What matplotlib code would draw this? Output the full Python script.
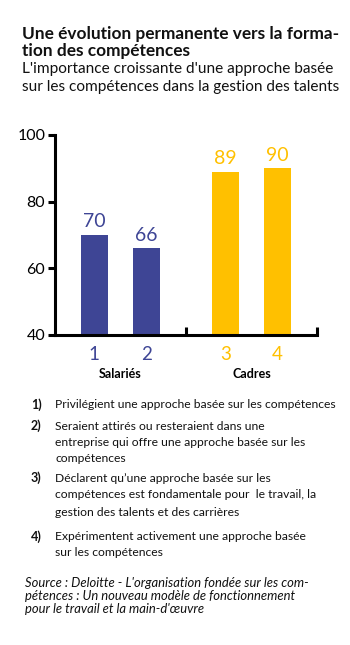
import matplotlib
matplotlib.use("Agg")
import matplotlib.pyplot as plt

# --- data ---
groups = ["Salariés", "Cadres"]
bar_labels = ["1", "2", "3", "4"]
values = [70, 66, 89, 90]
group_of_bar = [0, 0, 1, 1]
group_colors = ["#3E4595", "#FFC000"]

title_lines = ["Une évolution permanente vers la forma-", "tion des compétences"]
subtitle_lines = ["L'importance croissante d'une approche basée",
                  "sur les compétences dans la gestion des talents"]
notes = [
    ("1)", ["Privilégient une approche basée sur les compétences"]),
    ("2)", ["Seraient attirés ou resteraient dans une",
            "entreprise qui offre une approche basée sur les",
            "compétences"]),
    ("3)", ["Déclarent qu’une approche basée sur les",
            "compétences est fondamentale pour  le travail, la",
            "gestion des talents et des carrières"]),
    ("4)", ["Expérimentent activement une approche basée",
            "sur les compétences"]),
]
source_lines = ["Source : Deloitte - L'organisation fondée sur les com-",
                "pétences : Un nouveau modèle de fonctionnement",
                "pour le travail et la main-d'œuvre"]

FONT = "Lato"
INK = "#111111"
W, H = 350, 645
fig = plt.figure(figsize=(W / 100, H / 100), dpi=100)
fig.patch.set_facecolor("white")


def fy(y):
    return 1 - y / H


def fx(x):
    return x / W


# --- axes ---
ax = fig.add_axes([fx(55), fy(335), 262 / W, 200 / H])
offset, width = 0.2, 0.21
xs = []
for i, v in enumerate(values):
    g = group_of_bar[i]
    pos = g + 0.5 + (-offset if i % 2 == 0 else offset)
    xs.append(pos)
    c = group_colors[g]
    ax.bar(pos, v, width=width, color=c, zorder=2)
    ax.text(pos, v + 1.4, str(v), ha="center", va="bottom", color=c,
            fontsize=14, family=FONT)

ax.set_xlim(0, 2)
ax.set_ylim(40, 100)
ax.set_yticks([40, 60, 80, 100])
ax.set_yticklabels(["40", "60", "80", "100"], family=FONT, fontsize=11.5)
for s in ["top", "right"]:
    ax.spines[s].set_visible(False)
for s in ["left", "bottom"]:
    ax.spines[s].set_linewidth(2.2)
    ax.spines[s].set_capstyle("projecting")
ax.tick_params(axis="y", direction="out", length=5, width=2.2, pad=2)
ax.set_xticks([1, 2])
ax.set_xticklabels([])
ax.tick_params(axis="x", direction="in", length=6, width=2.2)

# category numbers and group names under the axis
for i, pos in enumerate(xs):
    ax.text(pos, -0.055, bar_labels[i], transform=ax.get_xaxis_transform(),
            ha="center", va="top", color=group_colors[group_of_bar[i]],
            fontsize=13.5, family=FONT)
for g, name in enumerate(groups):
    ax.text(g + 0.5, -0.165, name, transform=ax.get_xaxis_transform(),
            ha="center", va="top", fontsize=9, family=FONT, weight="bold")

# --- title block ---
for y, line in zip([34, 51], title_lines):
    fig.text(fx(22), fy(y), line, ha="left", va="center", fontsize=12.4,
             family=FONT, weight="bold", color=INK)
for y, line in zip([69, 87], subtitle_lines):
    fig.text(fx(22), fy(y), line, ha="left", va="center", fontsize=11.1,
             family=FONT, color=INK)

# --- notes ---
note_rows = [[405], [426, 442, 458], [478, 495, 512], [537, 553]]
for (num, lines), ys in zip(notes, note_rows):
    fig.text(fx(31), fy(ys[0]), num, ha="left", va="center", fontsize=9,
             family=FONT, weight="bold", color=INK)
    for y, line in zip(ys, lines):
        fig.text(fx(55), fy(y), line, ha="left", va="center", fontsize=8.7,
                 family=FONT, color=INK)

for y, line in zip([583, 596, 609], source_lines):
    fig.text(fx(25), fy(y), line, ha="left", va="center", fontsize=9.4,
             family=FONT, style="italic", color=INK)

fig.savefig("out.png", dpi=100)
